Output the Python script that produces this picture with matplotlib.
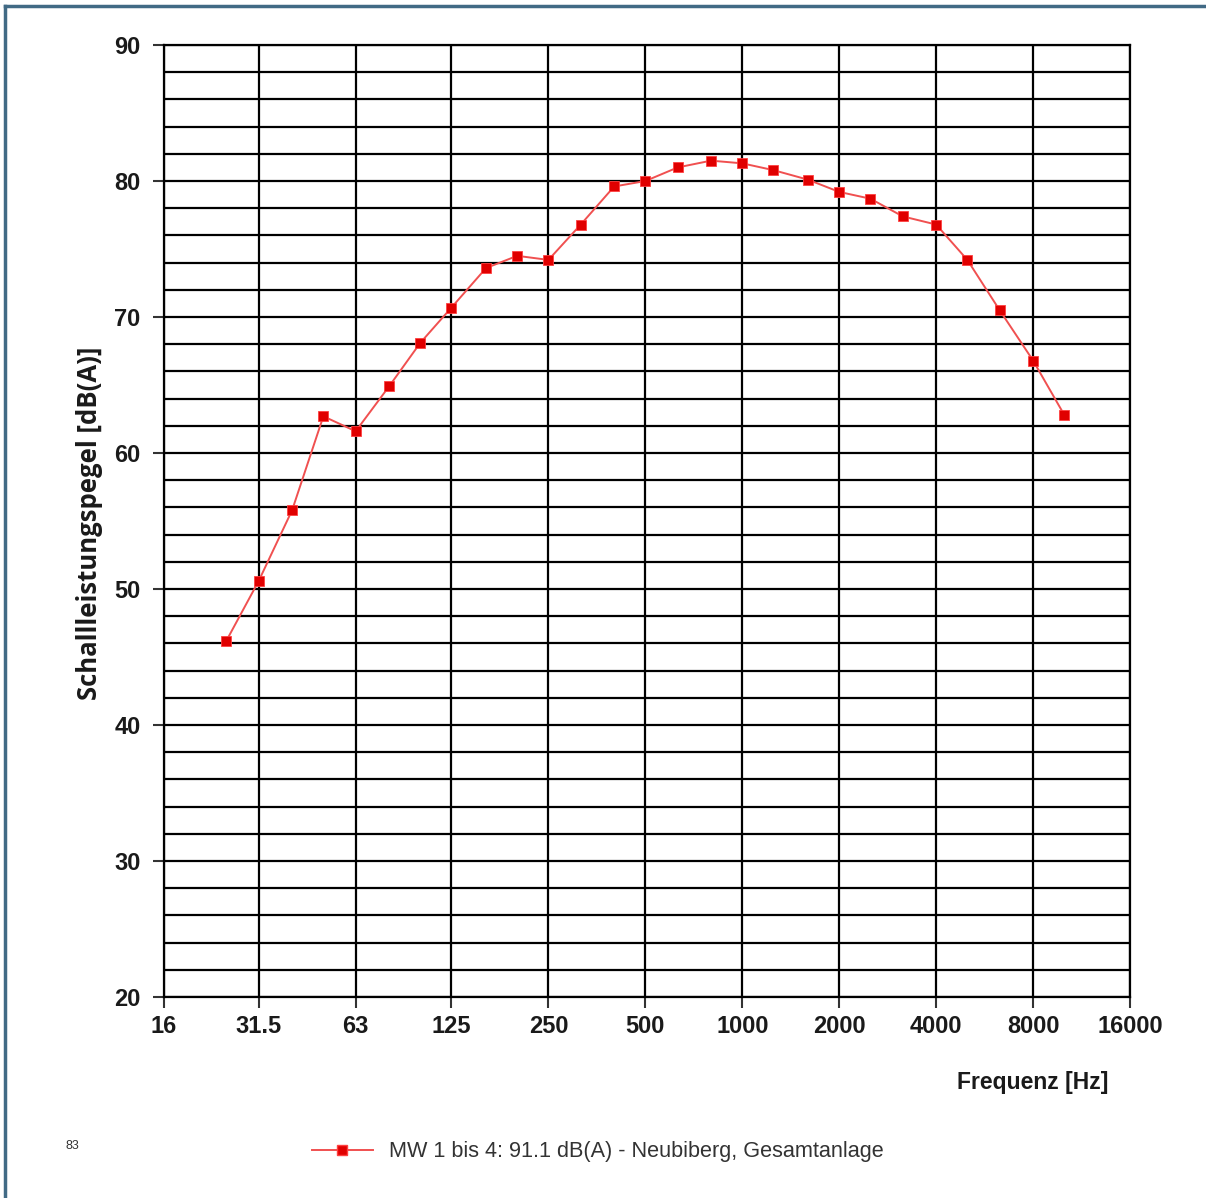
import numpy as np
import matplotlib
matplotlib.use('Agg')
import matplotlib.pyplot as plt
from matplotlib.lines import Line2D

# third-octave band centre frequencies [Hz] and sound power levels [dB(A)]
freq = [25, 31.5, 40, 50, 63, 80, 100, 125, 160, 200, 250, 315, 400, 500,
        630, 800, 1000, 1250, 1600, 2000, 2500, 3150, 4000, 5000, 6300, 8000, 10000]
level = [46.2, 50.6, 55.8, 62.7, 61.6, 64.9, 68.1, 70.7, 73.6, 74.5, 74.2, 76.8, 79.6, 80.0,
         81.0, 81.5, 81.3, 80.8, 80.1, 79.2, 78.7, 77.4, 76.8, 74.2, 70.5, 66.8, 62.8]

octave_ticks = [16, 31.5, 63, 125, 250, 500, 1000, 2000, 4000, 8000, 16000]
octave_labels = ['16', '31.5', '63', '125', '250', '500', '1000', '2000', '4000', '8000', '16000']
y_ticks = [20, 30, 40, 50, 60, 70, 80, 90]
series_name = 'MW 1 bis 4: 91.1 dB(A) - Neubiberg, Gesamtanlage'

plt.rcParams['font.family'] = ['Liberation Sans', 'DejaVu Sans']

fig = plt.figure(figsize=(12.06, 11.98), dpi=100)
ax = fig.add_axes([0.136, 0.1678, 0.801, 0.7946])

ax.set_xscale('log', base=2)
ax.set_xlim(16, 16000)
ax.set_ylim(20, 90)

# grid: vertical at octaves, horizontal every 2 dB
for f in octave_ticks:
    ax.axvline(f, color='black', lw=1.6, zorder=1)
for v in np.arange(20, 91, 2):
    ax.axhline(v, color='black', lw=1.6, zorder=1)

ax.plot(freq, level, color='#f05050', lw=1.4, marker='s', markersize=7,
        markerfacecolor='#e00000', markeredgecolor='#ff4040', markeredgewidth=0.6, zorder=3)

ax.set_xticks(octave_ticks)
ax.set_xticklabels(octave_labels)
ax.xaxis.set_minor_locator(matplotlib.ticker.NullLocator())
ax.set_yticks(y_ticks)
ax.tick_params(axis='both', direction='out', length=8, width=1.5, color='#333333',
               labelsize=17)
ax.tick_params(axis='x', pad=5)
ax.tick_params(axis='y', pad=9)
for lab in ax.get_xticklabels() + ax.get_yticklabels():
    lab.set_fontweight('bold')
    lab.set_color('#1a1a1a')
for sp in ax.spines.values():
    sp.set_linewidth(1.6)
    sp.set_color('black')

fig.text(1108 / 1206, 1 - 1082 / 1198, 'Frequenz [Hz]', ha='right', va='center',
         fontsize=16.5, fontweight='bold', color='#1a1a1a')
fig.text(90 / 1206, 1 - 523 / 1198, 'Schallleistungspegel [dB(A)]', ha='center', va='center',
         rotation=90, fontsize=18.5, fontweight='bold', color='#1a1a1a',
         family=['Open Sans', 'DejaVu Sans'])

handle = Line2D([], [], color='#f05050', lw=1.4, marker='s', markersize=7,
                markerfacecolor='#e00000', markeredgecolor='#ff4040')
fig.legend([handle], [series_name], loc='center left',
           bbox_to_anchor=(312 / 1206, 1 - 1152 / 1198), borderaxespad=0, borderpad=0,
           frameon=False, fontsize=15.6, handlelength=2.8, handletextpad=0.75,
           labelcolor='#333333')
fig.text(65 / 1206, 1 - 1146 / 1198, '83', ha='left', va='center', fontsize=9, color='#333333')

# outer frame (top and left edges)
border = '#416a85'
fig.add_artist(Line2D([5 / 1206, 1], [1 - 6 / 1198, 1 - 6 / 1198], color=border, lw=2.5,
                      transform=fig.transFigure))
fig.add_artist(Line2D([5 / 1206, 5 / 1206], [0, 1 - 6 / 1198], color=border, lw=2.5,
                      transform=fig.transFigure))

fig.savefig('out.png', dpi=100, facecolor='white')
